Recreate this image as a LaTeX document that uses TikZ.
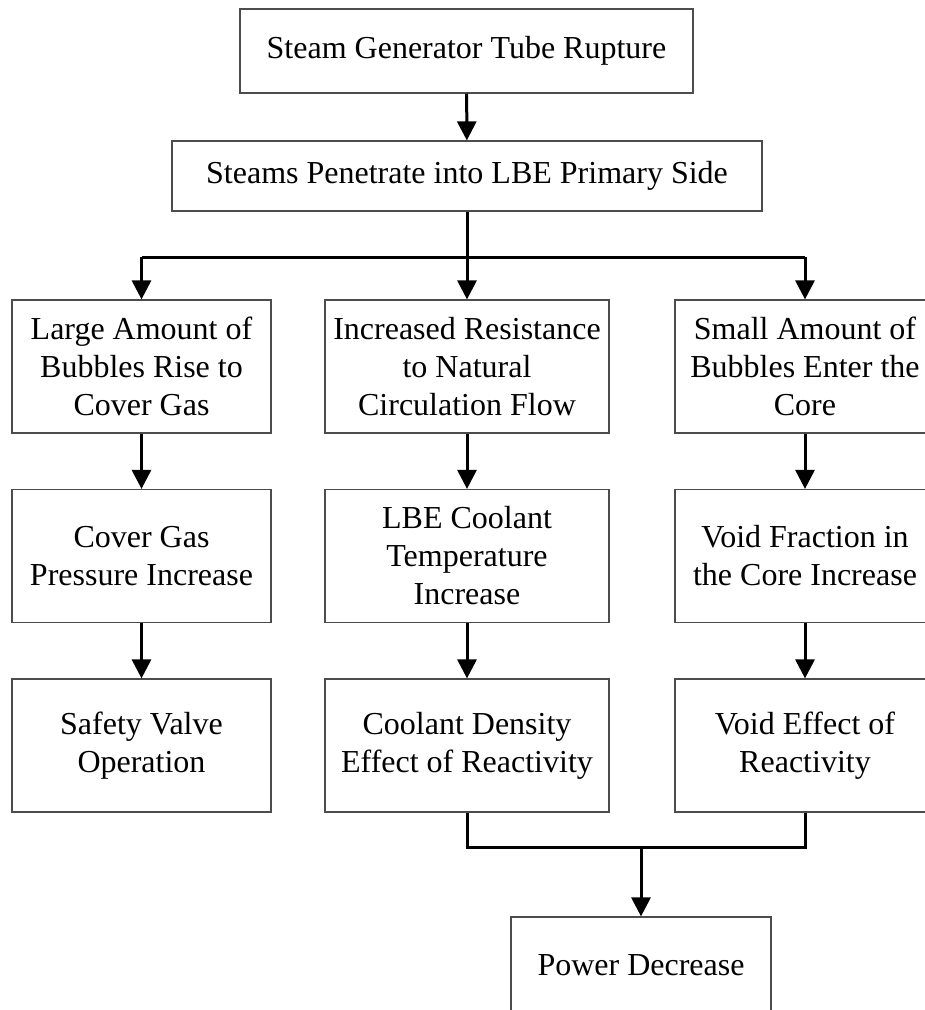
\documentclass[tikz,border=0pt]{standalone}
\usepackage{fontspec}
\setmainfont{Liberation Serif}
\usetikzlibrary{arrows.meta}
\begin{document}
\begin{tikzpicture}[x=1pt,y=-1pt,
  box/.style={draw=black!70, line width=1.2pt, align=center, inner sep=0pt,
    font=\fontsize{32}{38}\selectfont},
  colbox/.style={box, minimum height=133pt},
  conn/.style={line width=3pt, black},
  arr/.style={conn, -{Triangle[width=19pt,length=19pt]}},
]
\useasboundingbox (0,0) rectangle (925,1010);

% initiating event and first consequence
\node[box, minimum width=453pt, minimum height=84pt] (top) at (466.5,51) {Steam Generator Tube Rupture};
\node[box, minimum width=590pt, minimum height=70pt] (pen) at (467,176) {Steams Penetrate into LBE Primary Side};

% three branches
\node[colbox, minimum width=259pt] (a1) at (141.5,366.5) {Large Amount of\\Bubbles Rise to\\Cover Gas};
\node[colbox, minimum width=284pt] (b1) at (467,366.5) {Increased Resistance\\to Natural\\Circulation Flow};
\node[colbox, minimum width=260pt] (c1) at (805,366.5) {Small Amount of\\Bubbles Enter the\\Core};

\node[colbox, minimum width=259pt] (a2) at (141.5,556) {Cover Gas\\Pressure Increase};
\node[colbox, minimum width=284pt] (b2) at (467,556) {LBE Coolant\\Temperature\\Increase};
\node[colbox, minimum width=260pt] (c2) at (805,556) {Void Fraction in\\the Core Increase};

\node[colbox, minimum width=259pt] (a3) at (141.5,745.5) {Safety Valve\\Operation};
\node[colbox, minimum width=284pt] (b3) at (467,745.5) {Coolant Density\\Effect of Reactivity};
\node[colbox, minimum width=260pt] (c3) at (805,745.5) {Void Effect of\\Reactivity};

% final result (its lower edge runs past the page)
\node[box, minimum width=260pt, minimum height=96pt] (pow) at (641,965) {Power Decrease};

% connectors
\coordinate (sp) at (467,257);
\coordinate (jn) at (467,847);

\draw[arr] (top) -- (pen);
\draw[conn] (pen.south) -- (sp);
\draw[conn] (a1.north |- sp) -- (c1.north |- sp);
\draw[arr] (a1.north |- sp) -- (a1.north);
\draw[arr] (sp) -- (b1.north);
\draw[arr] (c1.north |- sp) -- (c1.north);

\draw[arr] (a1) -- (a2);
\draw[arr] (b1) -- (b2);
\draw[arr] (c1) -- (c2);
\draw[arr] (a2) -- (a3);
\draw[arr] (b2) -- (b3);
\draw[arr] (c2) -- (c3);

\draw[conn, line join=miter] (b3.south) -- (jn) -| (c3.south);
\draw[arr] (pow.north |- jn) -- (pow.north);
\end{tikzpicture}
\end{document}
